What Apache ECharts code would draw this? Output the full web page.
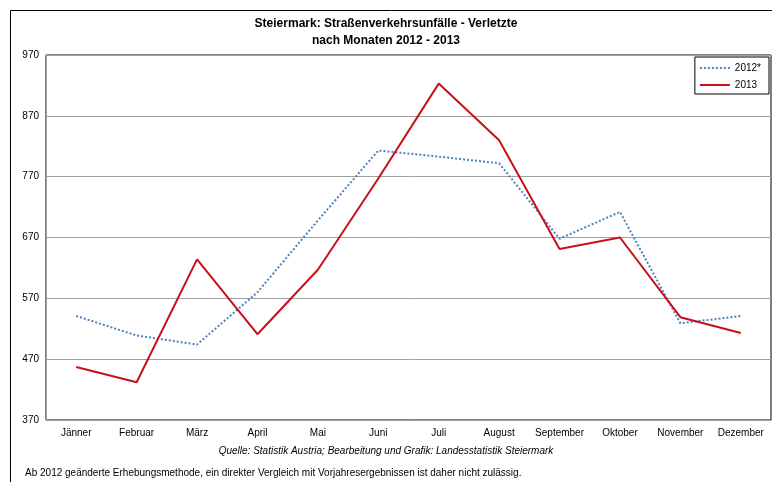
<!DOCTYPE html>
<html>
<head>
<meta charset="utf-8">
<script src="https://cdn.jsdelivr.net/npm/echarts@6/dist/echarts.min.js"></script>
<style>
  html, body { margin: 0; padding: 0; background: #fff; }
  #chart { width: 772px; height: 482px; }
</style>
</head>
<body>
<div id="chart"></div>
<script>
// Monate
var months = ['Jänner', 'Februar', 'März', 'April', 'Mai', 'Juni', 'Juli', 'August', 'September', 'Oktober', 'November', 'Dezember']
// Verletzte 2012* (geänderte Erhebungsmethode)
var verletzte2012 = [541, 509, 494, 580, 698, 813, 803, 792, 668, 712, 529, 541]
// Verletzte 2013
var verletzte2013 = [457, 432, 634, 511, 617, 767, 923, 830, 651, 670, 539, 513]

var chart = echarts.init(document.getElementById('chart'))
var font = 'Arial, "Liberation Sans", sans-serif'

chart.setOption({
  backgroundColor: '#fff',
  animation: false,
  title: {
    text: 'Steiermark: Straßenverkehrsunfälle - Verletzte\nnach Monaten 2012 - 2013',
    left: 'center',
    top: 10,
    textStyle: {
      fontFamily: font,
      fontSize: 12,
      fontWeight: 'bold',
      color: '#000',
      lineHeight: 17
    }
  },
  legend: {
    show: true,
    orient: 'vertical',
    right: 3,
    top: 57,
    itemWidth: 30,
    itemHeight: 8,
    itemGap: 7,
    padding: [6, 8, 4, 4],
    borderColor: '#000',
    borderWidth: 1,
    borderRadius: 0,
    itemStyle: { opacity: 0 },
    textStyle: { fontFamily: font, fontSize: 10, color: '#000' },
    data: ['2012*', '2013']
  },
  grid: {
    left: 46,
    right: 1,
    top: 55,
    bottom: 62,
    show: true,
    borderColor: '#000',
    borderWidth: 1
  },
  xAxis: {
    type: 'category',
    data: months,
    boundaryGap: true,
    axisLine: { lineStyle: { color: '#a0a0a0' } },
    axisTick: { show: false },
    axisLabel: { fontFamily: font, fontSize: 10, color: '#000', margin: 8, interval: 0 }
  },
  yAxis: {
    type: 'value',
    min: 370,
    max: 970,
    interval: 100,
    axisLine: { show: true, lineStyle: { color: '#a0a0a0' } },
    axisTick: { show: false },
    splitLine: { lineStyle: { color: '#a0a0a0' } },
    axisLabel: { fontFamily: font, fontSize: 10, color: '#000', margin: 7 }
  },
  graphic: [
    {
      type: 'rect',
      shape: { x: 10.5, y: 10.5, width: 800, height: 500 },
      style: { fill: 'none', stroke: '#000', lineWidth: 1 },
      silent: true,
      z: -1
    },
    {
      type: 'text',
      left: 'center',
      top: 446,
      style: {
        text: 'Quelle: Statistik Austria; Bearbeitung und Grafik: Landesstatistik Steiermark',
        fontFamily: font,
        fontSize: 10,
        fontStyle: 'italic',
        fill: '#000'
      }
    },
    {
      type: 'text',
      left: 25,
      top: 468,
      style: {
        text: 'Ab 2012 geänderte Erhebungsmethode, ein direkter Vergleich mit Vorjahresergebnissen ist daher nicht zulässig.',
        fontFamily: font,
        fontSize: 10,
        fill: '#000'
      }
    }
  ],
  series: [
    {
      name: '2012*',
      type: 'line',
      data: verletzte2012,
      symbol: 'none',
      itemStyle: { color: '#4f81bd' },
      lineStyle: { color: '#4f81bd', width: 2, type: 'dotted' }
    },
    {
      name: '2013',
      type: 'line',
      data: verletzte2013,
      symbol: 'none',
      itemStyle: { color: '#c8101a' },
      lineStyle: { color: '#c8101a', width: 2 }
    }
  ]
})
</script>
</body>
</html>
